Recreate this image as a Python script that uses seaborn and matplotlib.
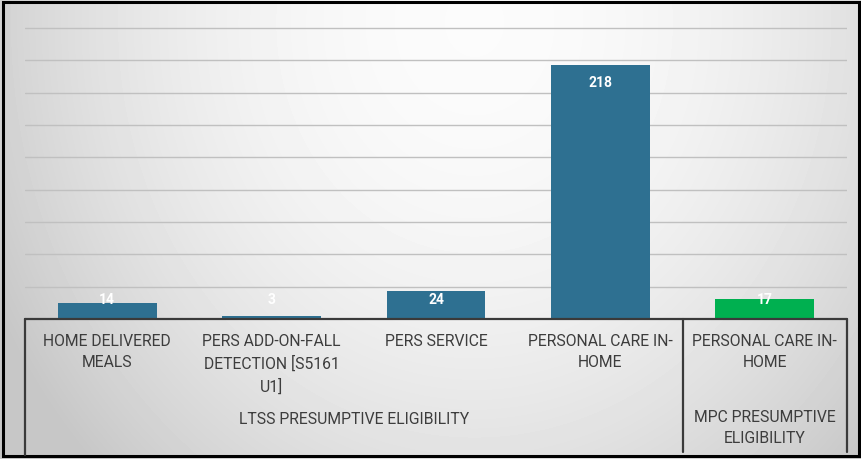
import numpy as np
import pandas as pd
import matplotlib
matplotlib.use("Agg")
import matplotlib.pyplot as plt
import matplotlib.transforms as mtransforms
from matplotlib.lines import Line2D
from matplotlib.patches import Rectangle
import seaborn as sns

# ---- data ----
categories = ["HOME DELIVERED\nMEALS",
              "PERS ADD-ON-FALL\nDETECTION [S5161\nU1]",
              "PERS SERVICE",
              "PERSONAL CARE IN-\nHOME",
              "PERSONAL CARE IN-\nHOME"]
groups = ["LTSS PRESUMPTIVE ELIGIBILITY"] * 4 + ["MPC PRESUMPTIVE\nELIGIBILITY"]
values = [14, 3, 24, 218, 17]
group_names = ["LTSS PRESUMPTIVE ELIGIBILITY", "MPC PRESUMPTIVE\nELIGIBILITY"]

keys = [f"{i}" for i in range(len(categories))]
df = pd.DataFrame({"key": keys, "category": categories, "group": groups, "value": values})

W, H = 862, 460
sns.set_theme(style="white")
plt.rcParams['font.family'] = ['Roboto', 'DejaVu Sans']

fig = plt.figure(figsize=(W / 100, H / 100), dpi=100)

# gradient background
bg = fig.add_axes([0, 0, 1, 1], zorder=-10)
yy, xx = np.mgrid[0:H, 0:W]
r2 = ((xx - W * 0.55) / (W * 0.55)) ** 2 + ((yy - H * 0.05) / (H * 1.2)) ** 2
img = np.clip(0.985 - 0.16 * r2, 0.78, 1.0)
bg.imshow(img, cmap="gray", vmin=0, vmax=1, aspect="auto", extent=[0, 1, 0, 1])
bg.axis("off")

left, right, base, top = 25, 847, 320, 22
ax = fig.add_axes([left / W, 1 - base / H, (right - left) / W, (base - top) / H])
ax.set_facecolor("none")

palette = {group_names[0]: "#2E7091", group_names[1]: "#00B050"}
sns.barplot(data=df, x="key", y="value", hue="group", palette=palette, order=keys,
            width=0.6, dodge=False, legend=False, saturation=1, linewidth=0,
            ax=ax, zorder=3)

ax.set_ylim(0, 256)
ax.set_yticks(np.linspace(0, 250, 10))
ax.yaxis.grid(True, color="#c0c0c0", lw=1.0, zorder=0)
ax.tick_params(length=0, labelleft=False, labelbottom=False)
ax.set_xlabel("")
ax.set_ylabel("")
for s in ax.spines.values():
    s.set_visible(False)

# value labels
for i, v in enumerate(values):
    ly = max(v - 14.6, 17)
    ax.text(i, ly, str(v), ha="center", va="center", color="white",
            fontsize=10, fontweight="bold", family=["Liberation Sans Narrow", "Roboto", "DejaVu Sans"],
            zorder=5)

def fy(ypix):
    return 1 - ypix / H

trans = mtransforms.blended_transform_factory(ax.transData, fig.transFigure)

txt_color = "#3d3d3d"
fs = 11.3
# category labels
for i, c in enumerate(categories):
    ax.text(i, fy(334), c, transform=trans, ha="center", va="top", color=txt_color,
            fontsize=fs, linespacing=1.5, clip_on=False)

# group labels
ax.text(1.5, fy(420), group_names[0], transform=trans, ha="center", va="center",
        color=txt_color, fontsize=fs, clip_on=False)
ax.text(4, fy(410), group_names[1], transform=trans, ha="center", va="top",
        color=txt_color, fontsize=fs, linespacing=1.5, clip_on=False)

# category box lines
lc = "#3a3a3a"
fig.add_artist(Line2D([-0.5, 4.5], [fy(base), fy(base)], transform=trans, color=lc, lw=1.6))
for xv, yb in [(-0.5, 456), (3.5, 453), (4.5, 453)]:
    fig.add_artist(Line2D([xv, xv], [fy(base), fy(yb)], transform=trans, color=lc, lw=1.6))

# outer frame
fig.add_artist(Rectangle((3 / W, 3 / H), (W - 6) / W, (H - 6) / H, transform=fig.transFigure,
                         fill=False, edgecolor="black", lw=2.2))

fig.savefig("out.png", dpi=100)
